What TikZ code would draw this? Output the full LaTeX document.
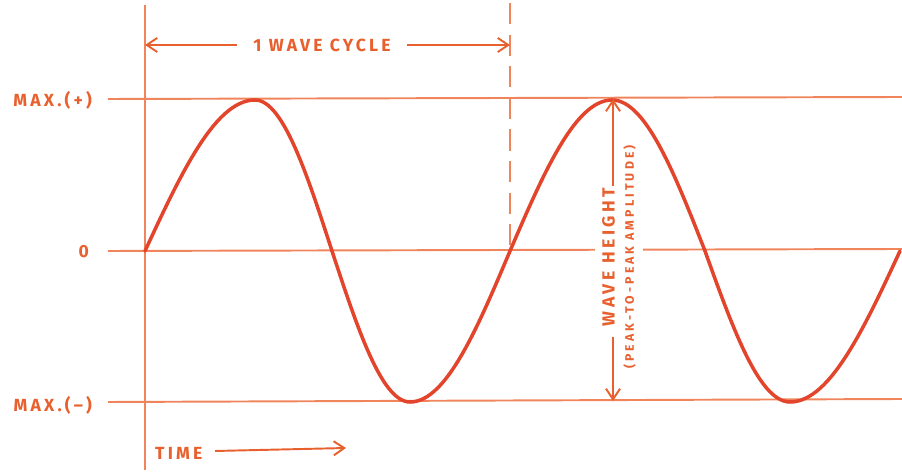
\documentclass[tikz,border=0pt]{standalone}
\usepackage{fontspec}
\setmainfont{Fira Sans}
\usetikzlibrary{arrows.meta}
\definecolor{inkline}{HTML}{F0845C}
\definecolor{inkwave}{HTML}{E2442C}
\definecolor{inktext}{HTML}{E8602E}
\begin{document}
\begin{tikzpicture}[x=0.02cm,y=-0.02cm,
  guide/.style={draw=inkline,line width=1.1pt},
  wave/.style={draw=inkwave,line width=2pt,line cap=round},
  label/.style={text=inktext,font=\bfseries\fontsize{10}{12}\selectfont\addfontfeature{LetterSpace=18}},
  dim/.style={draw=inktext,line width=1.1pt,-{Straight Barb[length=6pt,width=8pt]}}]
\useasboundingbox (0,0) rectangle (902,475);
% axes and level lines
\draw[guide] (145,5) -- (145,470);
\draw[guide] (108,99) -- (902,97);
\draw[guide] (108,251) -- (902,249);
\draw[guide] (108,402) -- (902,399);
\draw[guide,dash pattern=on 12pt off 6pt] (510,3) -- (510,251);
% the wave, drawn by quarters (start, end, quarter)
\foreach \xa/\xb/\q in {145/255/0,255/332/1,332/410/2,410/510/3,
                        510/612/0,612/705/1,705/790/2,790/900/3}
  \draw[wave] plot[domain=0:1,samples=30] ({\xa+\x*(\xb-\xa)},{251-151*sin(90*\q+90*\x)});
% level labels
\node[label,anchor=east] (maxp) at (98,100) {MAX.(+)};
\node[label,anchor=east] (zero) at (95,252) {0};
\node[label,anchor=east] (maxm) at (98,405) {MAX.(–)};
% one cycle
\coordinate (cycA) at (145,45);
\coordinate (cycB) at (510,45);
\node[label,fill=white,inner xsep=9pt] (cycle) at (322,45) {1 WAVE CYCLE};
\draw[dim] (cycle) -- (cycA);
\draw[dim] (cycle) -- (cycB);
% wave height
\coordinate (htA) at (613,99);
\coordinate (htB) at (613,401);
\node[fill=white,rotate=90,align=center,text=inktext,inner sep=4pt] (height) at (619,257)
  {\bfseries\fontsize{10}{11}\selectfont\addfontfeature{LetterSpace=20}WAVE HEIGHT\\[-1pt]
   \bfseries\fontsize{7}{8}\selectfont\addfontfeature{LetterSpace=25}(PEAK-TO-PEAK AMPLITUDE)};
\draw[dim] (613,186) -- (htA);
\draw[dim] (613,337) -- (htB);
% time
\node[label,anchor=west] (time) at (149,453) {TIME};
\coordinate (timeB) at (346,448);
\draw[dim] (215,451) -- (timeB);
\end{tikzpicture}
\end{document}
